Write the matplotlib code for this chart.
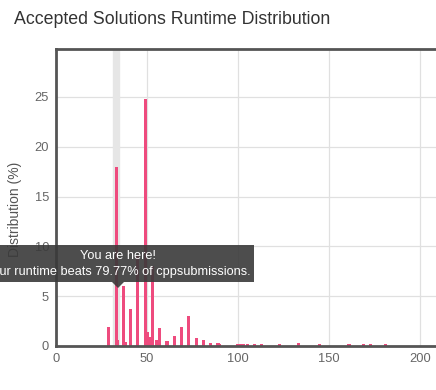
import matplotlib as mlp
mlp.use('Agg')
from matplotlib import pyplot as plt
from matplotlib.patches import Rectangle, Polygon

plt.rcParams['font.family'] = ['Liberation Sans', 'DejaVu Sans']

# runtime (ms) and share of accepted solutions (%)
runtime = [29, 33, 34, 37, 38, 41, 45, 49, 50, 52, 53, 55, 57, 61, 65, 69, 73,
           77, 81, 85, 89, 90, 100, 102, 103, 105, 109, 113, 123, 133, 145,
           161, 169, 173, 181]
percent = [1.9, 18.0, 0.6, 6.0, 0.4, 3.7, 9.0, 24.8, 1.4, 0.9, 8.0, 0.6, 1.8,
           0.5, 1.0, 1.9, 3.0, 0.8, 0.6, 0.3, 0.3, 0.2, 0.2, 0.2, 0.2, 0.2,
           0.2, 0.2, 0.2, 0.3, 0.2, 0.2, 0.2, 0.2, 0.2]
my_runtime = 33
beats = 79.77
xticks = [0, 50, 100, 150, 200]
yticks = [0, 5, 10, 15, 20, 25]

W, H = 436, 390
fig = plt.figure(figsize=(W / 100, H / 100), dpi=100)
ax = fig.add_axes([56 / W, 1 - 346 / H, 1 - 56 / W, (346 - 49) / H])

ax.axvspan(my_runtime - 1.7, my_runtime + 1.7, color='#e6e6e6', zorder=1)
ax.bar(runtime, percent, width=1.7, color='#ee4b7e', zorder=2)

ax.set_xlim(0, 208.8)
ax.set_ylim(0, 29.8)
ax.set_xticks(xticks)
ax.set_yticks(yticks)
ax.grid(True, color='#e0e0e0', linewidth=0.9, zorder=0)
ax.set_axisbelow(True)
ax.tick_params(length=0, labelsize=9.3, colors='#666666', pad=5)
for s in ['top', 'left', 'bottom']:
    ax.spines[s].set_color('#555555')
    ax.spines[s].set_linewidth(2)
ax.spines['right'].set_visible(False)
ax.set_ylabel('Distribution (%)', fontsize=10, color='#555555')
ax.yaxis.set_label_coords(-34 / (W - 56), 0.46)

fig.text(14 / W, 1 - 20 / H, 'Accepted Solutions Runtime Distribution',
         fontsize=12.8, color='#333333', va='center', ha='left')

# tooltip overlay in pixel coordinates
ov = fig.add_axes([0, 0, 1, 1])
ov.set_xlim(0, W)
ov.set_ylim(H, 0)
ov.axis('off')
ov.add_patch(Rectangle((-20, 245), 274, 37, facecolor='#3a3a3a', alpha=0.9,
                       edgecolor='none'))
ov.add_patch(Polygon([(112, 282), (124, 282), (118, 288)], closed=True,
                     facecolor='#3a3a3a', alpha=0.9, edgecolor='none'))
ov.text(118, 256, 'You are here!', color='white', fontsize=9.2,
        ha='center', va='center')
ov.text(118, 272, 'Your runtime beats %.2f%% of cppsubmissions.' % beats,
        color='white', fontsize=9.2, ha='center', va='center')

plt.savefig('out.png', dpi=100)
